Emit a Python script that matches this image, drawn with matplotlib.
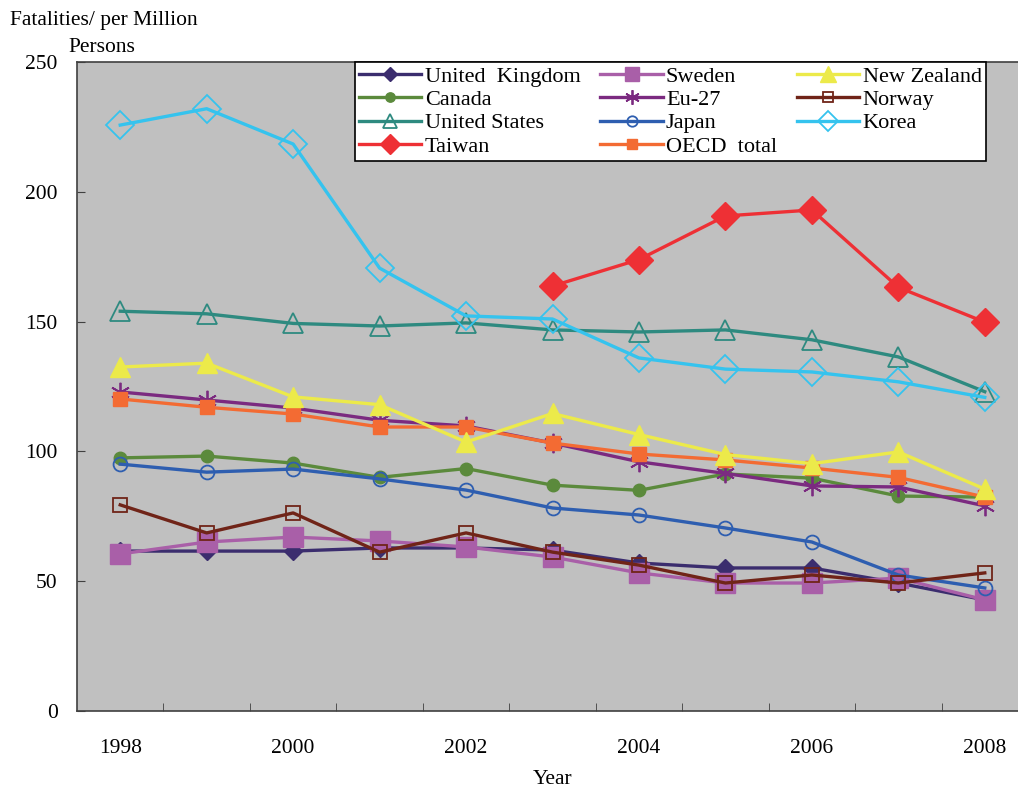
import numpy as np
import matplotlib
matplotlib.use("Agg")
from matplotlib import pyplot as plt

plt.rcParams['font.family'] = ['Liberation Serif', 'DejaVu Serif']

years = ['1998', '1999', '2000', '2001', '2002', '2003', '2004', '2005', '2006', '2007', '2008']
nan = np.nan

uk = [61.6, 61.6, 61.6, 62.8, 62.8, 62.0, 57.0, 55.1, 55.1, 49.3, 42.8]
sweden = [60.5, 65.1, 67.0, 65.5, 63.2, 59.3, 53.2, 49.3, 49.3, 51.2, 42.8]
new_zealand = [132.5, 134.0, 121.0, 118.0, 103.6, 114.6, 106.5, 98.8, 95.3, 99.8, 85.5]
canada = [97.5, 98.2, 95.5, 90.0, 93.4, 87.0, 85.0, 91.3, 89.7, 82.8, 82.4]
eu27 = [122.9, 119.8, 116.7, 112.0, 109.8, 103.2, 96.0, 91.5, 86.7, 86.3, 79.0]
norway = [79.4, 68.6, 76.3, 61.2, 68.6, 61.2, 56.2, 49.3, 52.4, 49.3, 53.2]
united_states = [154.0, 153.0, 149.3, 148.3, 149.5, 146.8, 146.0, 146.8, 143.0, 136.4, 123.0]
japan = [95.1, 92.0, 93.2, 89.4, 85.1, 78.2, 75.5, 70.5, 65.1, 52.4, 47.4]
korea = [225.7, 232.0, 218.4, 170.6, 152.2, 151.0, 136.0, 131.7, 130.6, 126.8, 120.8]
taiwan = [nan, nan, nan, nan, nan, 163.7, 173.9, 190.7, 193.0, 163.2, 149.8]
oecd = [120.2, 117.0, 114.4, 109.4, 109.4, 103.2, 99.0, 96.7, 93.6, 90.0, 82.4]

fig = plt.figure(figsize=(10.18, 7.89), dpi=100)
ax = fig.add_axes([77/1018, 78/789, 951/1018, 649/789])
ax.set_facecolor('#c0c0c0')
x = np.arange(len(years))

lw = 2.4
series = [
    ('United  Kingdom', uk, '#3b2d6e', dict(marker='D', ms=9, mfc='#3b2d6e', mec='#3b2d6e')),
    ('Canada', canada, '#5b8a3c', dict(marker='o', ms=9, mfc='#5b8a3c', mec='#5b8a3c')),
    ('United States', united_states, '#2e8a80', dict(marker='^', ms=14, mfc='none', mec='#2e8a80', mew=1.3)),
    ('Taiwan', taiwan, '#ee3035', dict(marker='D', ms=14, mfc='#ee3035', mec='#ee3035')),
    ('Sweden', sweden, '#a95fa8', dict(marker='s', ms=14, mfc='#a95fa8', mec='#a95fa8')),
    ('Eu-27', eu27, '#7b2a80', dict(marker=(6, 2, 0), ms=14, mec='#7b2a80', mew=1.3)),
    ('Japan', japan, '#2e5eb0', dict(marker='o', ms=10, mfc='none', mec='#2e5eb0', mew=1.3)),
    ('OECD  total', oecd, '#f36b33', dict(marker='s', ms=10, mfc='#f36b33', mec='#f36b33')),
    ('New Zealand', new_zealand, '#ecea4a', dict(marker='^', ms=15, mfc='#ecea4a', mec='#ecea4a')),
    ('Norway', norway, '#702418', dict(marker='s', ms=10, mfc='none', mec='#702418', mew=1.3)),
    ('Korea', korea, '#35c3ee', dict(marker='D', ms=14, mfc='none', mec='#35c3ee', mew=1.3)),
]

handles = {}
for name, vals, col, mk in series:
    h, = ax.plot(x, vals, color=col, lw=lw, label=name, **mk)
    handles[name] = h

ax.set_xlim(-0.5, 10.5)
ax.set_ylim(0, 250)
ax.set_yticks(np.arange(0, 251, 50))
ax.set_xticks(x[::2])
ax.set_xticklabels(years[::2])
ax.set_xticks(np.arange(0.5, 10.5, 1), minor=True)
ax.tick_params(axis='x', which='major', length=0, pad=20, labelsize=15.5)
ax.tick_params(axis='x', which='minor', direction='in', length=6, color='#404040')
ax.tick_params(axis='y', direction='in', length=6, pad=14, labelsize=15.5, color='#404040')
for s in ax.spines.values():
    s.set_color('#404040')
    s.set_linewidth(1.2)

order = ['United  Kingdom', 'Canada', 'United States', 'Taiwan',
         'Sweden', 'Eu-27', 'Japan', 'OECD  total',
         'New Zealand', 'Norway', 'Korea']
leg = ax.legend([handles[n] for n in order], order, ncol=3, loc='upper left',
                bbox_to_anchor=(0.292, 1.0), borderaxespad=0, fontsize=16,
                frameon=True, fancybox=False, edgecolor='black', framealpha=1,
                handlelength=2.8, handletextpad=0.15, columnspacing=0.9,
                labelspacing=0.12, borderpad=0.2, markerscale=0.75)
leg.get_frame().set_linewidth(1.2)

fig.text(10/1018, 1 - 20/789, 'Fatalities/ per Million', fontsize=15.5, va='center', ha='left')
fig.text(68/1018, 1 - 48/789, 'Persons', fontsize=15.5, va='center', ha='left')
fig.text(553/1018, 1 - 780/789, 'Year', fontsize=15.5, va='center', ha='center')

fig.savefig('out.png', dpi=100)
